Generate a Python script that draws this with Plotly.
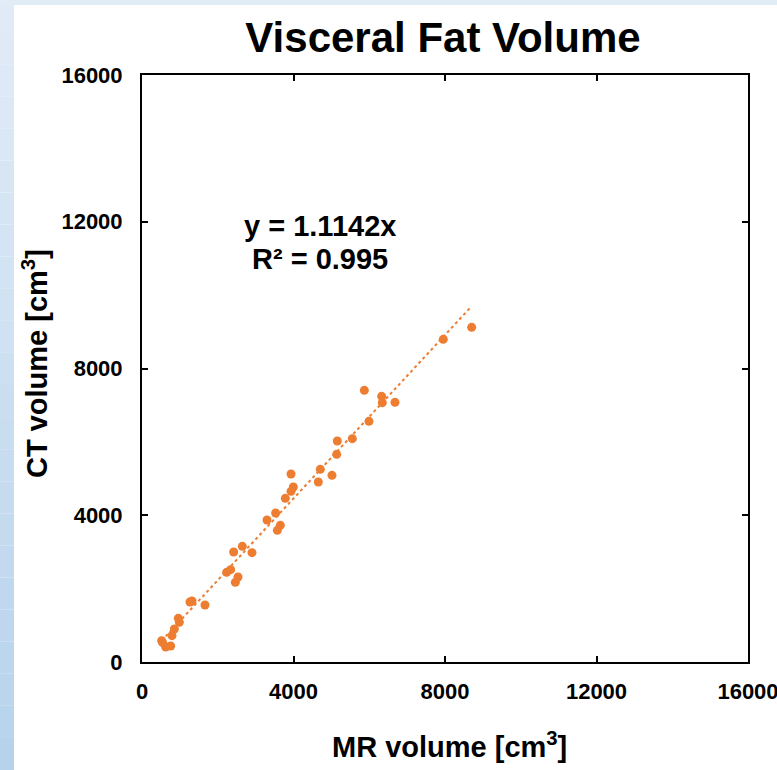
import plotly.graph_objects as go

# ---- data ----
mr_volume = [8704, 7955, 5870, 6328, 6345, 6679, 5993, 5553, 5157, 5140,
             4708, 5016, 4655, 3934, 3995, 3934, 3784, 3529, 3300, 3652,
             3573, 2649, 2420, 2904, 2341, 2235, 2534, 2464, 1320, 1267,
             1663, 959, 986, 854, 792, 519, 545, 625, 757]
ct_volume = [9122, 8795, 7405, 7241, 7068, 7078, 6560, 6087, 6024, 5661,
             5252, 5088, 4906, 5124, 4770, 4652, 4461, 4061, 3870, 3725,
             3589, 3153, 2998, 2980, 2516, 2444, 2317, 2171, 1663, 1635,
             1554, 1190, 1081, 899, 718, 581, 527, 409, 436]
SLOPE = 1.1142
R2 = 0.995
tick_vals = [0, 4000, 8000, 12000, 16000]
tick_text = ["0", "4000", "8000", "12000", "16000"]

ORANGE = "#ED7D31"
FONT = "Liberation Sans, Arial, sans-serif"

trend_x = [min(mr_volume), max(mr_volume)]
trend_y = [SLOPE * v for v in trend_x]

fig = go.Figure()
fig.add_trace(go.Scatter(x=trend_x, y=trend_y, mode="lines",
                         line=dict(color=ORANGE, width=2, dash="dot"),
                         hoverinfo="skip", showlegend=False))
fig.add_trace(go.Scatter(x=mr_volume, y=ct_volume, mode="markers",
                         marker=dict(color=ORANGE, size=9, line=dict(width=0)),
                         showlegend=False))

# page is 777 px wide; figure is a bit wider so the last x tick label is
# drawn and then clipped by the window, as in the reference
VIEW_W = 777
W, H = 800, 770
L, T, B = 142, 75, 108
R = W - 748
pw, ph = W - L - R, H - T - B
def px(x):
    return (x - L) / pw
def py(y):
    return (H - B - y) / ph

shapes = []
n = 24
c0 = (0xE2, 0xEC, 0xF7)
c1 = (0xB6, 0xD2, 0xEC)
for i in range(n):
    f = (i + 0.5) / n
    col = "rgb(%d,%d,%d)" % tuple(round(a + (b - a) * f) for a, b in zip(c0, c1))
    y0 = H * i / n
    y1 = H * (i + 1) / n
    shapes.append(dict(type="rect", xref="paper", yref="paper",
                       x0=px(0), x1=px(14), y0=py(y0), y1=py(y1),
                       fillcolor=col, line=dict(width=0), layer="below"))
shapes.append(dict(type="rect", xref="paper", yref="paper",
                   x0=px(0), x1=px(W), y0=py(0), y1=py(5),
                   fillcolor="rgb(226,236,247)", line=dict(width=0), layer="below"))

axis_common = dict(range=[0, 16000], tickvals=tick_vals, ticktext=tick_text,
                   showgrid=False, zeroline=False, showline=True,
                   linecolor="black", linewidth=2, mirror="ticks",
                   ticks="inside", ticklen=6, tickwidth=2, tickcolor="black",
                   tickfont=dict(family=FONT, size=22, color="black", weight="bold"))

fig.update_layout(
    width=W, height=H,
    margin=dict(l=L, r=R, t=T, b=B),
    paper_bgcolor="white", plot_bgcolor="white",
    shapes=shapes,
    title=dict(text="<b>Visceral Fat Volume</b>", x=px(443), xref="paper",
               xanchor="center",
               y=1 - 37 / H, yanchor="middle", yref="container",
               font=dict(family=FONT, size=42, color="black")),
    xaxis=dict(**axis_common, ticklabelstandoff=9),
    yaxis=dict(**axis_common, ticklabelstandoff=13),
    annotations=[
        dict(text="<b>y = 1.1142x</b>", x=4700, y=11884, xref="x", yref="y",
             showarrow=False, xanchor="center", yanchor="middle",
             font=dict(family=FONT, size=29, color="black")),
        dict(text="<b>R² = %.3f</b>" % R2, x=4700, y=10985, xref="x", yref="y",
             showarrow=False, xanchor="center", yanchor="middle",
             font=dict(family=FONT, size=29, color="black")),
        dict(text="<b>MR volume [cm<sup>3</sup>]</b>", x=px(449), y=py(745),
             xref="paper", yref="paper", showarrow=False,
             xanchor="center", yanchor="middle",
             font=dict(family=FONT, size=29, color="black")),
        dict(text="<b>CT volume [cm<sup>3</sup>]</b>", x=px(35), y=py(364),
             xref="paper", yref="paper", showarrow=False, textangle=-90,
             xanchor="center", yanchor="middle",
             font=dict(family=FONT, size=29, color="black")),
    ],
)

fig.write_html("out.html",
               config={"displayModeBar": False},
               post_script="document.body.style.margin='0';document.body.style.overflow='hidden';")
